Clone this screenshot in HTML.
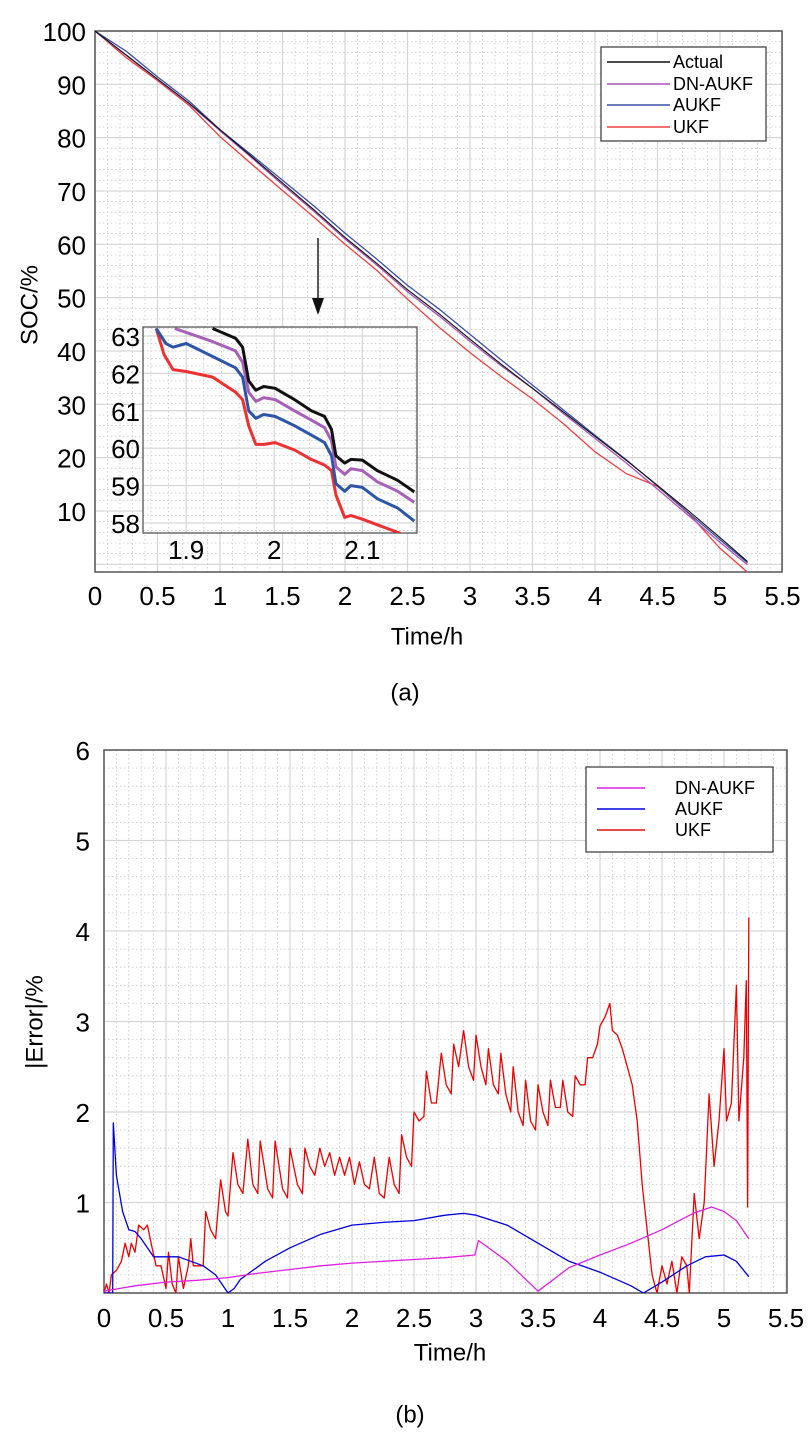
<!DOCTYPE html>
<html><head><meta charset="utf-8"><style>
html,body{margin:0;padding:0;background:#fff;width:810px;height:1440px;overflow:hidden}
svg{display:block;font-family:"Liberation Sans",sans-serif}
</style></head><body>
<svg id="s" width="810" height="1440" xmlns="http://www.w3.org/2000/svg"></svg>
<script>
// ---- Chart (a) data ----
const socTimes=[0,0.25,0.5,0.75,1,1.25,1.5,1.75,2,2.25,2.5,2.75,3,3.25,3.5,3.75,4,4.25,4.5,4.75,5,5.22];
const socActual=[100,95.5,91,86.5,81.5,76.5,71.5,66.5,61.3,56.5,51.5,47,42.2,37.5,33,28.5,24,19.5,14.8,10,5,0.5];
const socDN=[100,95.4,90.9,86.4,81.3,76.3,71.2,66.2,61.0,56.2,51.1,46.6,41.8,37.2,33,28.2,23.6,19,14.1,9.1,4.1,-0.1];
const socAUKF=[100,96.2,91.4,86.9,81.5,76.8,72.0,67.2,62.1,57.3,52.3,47.9,43.1,38.3,33.6,28.9,24.2,19.6,14.7,9.6,4.6,0.3];
const socUKF=[100,95.0,90.7,86.1,80.2,75.1,70.1,65.1,60.0,55.2,49.7,44.5,39.7,35.2,31.0,26.3,21.1,17.0,14.6,9.5,3.0,-1.5];
const xTicksA=[0,0.5,1,1.5,2,2.5,3,3.5,4,4.5,5,5.5];
const xTickLabelsA=["0","0.5","1","1.5","2","2.5","3","3.5","4","4.5","5","5.5"];
const yTicksA=[10,20,30,40,50,60,70,80,90,100];
// inset
const insT_black=[1.93,1.956,1.964,1.971,1.979,1.988,2.001,2.023,2.042,2.057,2.065,2.07,2.08,2.087,2.1,2.117,2.14,2.159];
const insV_black=[63.2,62.94,62.7,61.8,61.55,61.65,61.6,61.3,61.0,60.85,60.5,59.8,59.6,59.7,59.68,59.4,59.14,58.83];
const insT_dn=[1.887,1.93,1.956,1.964,1.971,1.979,1.988,2.001,2.023,2.042,2.057,2.065,2.07,2.08,2.087,2.1,2.117,2.14,2.159];
const insV_dn=[63.2,62.85,62.6,62.3,61.5,61.25,61.35,61.3,61.0,60.75,60.55,60.2,59.5,59.3,59.45,59.4,59.1,58.85,58.55];
const insT_au=[1.866,1.877,1.885,1.9,1.93,1.956,1.964,1.971,1.979,1.988,2.001,2.023,2.042,2.057,2.065,2.07,2.08,2.087,2.1,2.117,2.14,2.159];
const insV_au=[63.2,62.8,62.7,62.8,62.45,62.15,61.9,61.0,60.8,60.9,60.85,60.6,60.35,60.15,59.8,59.05,58.85,59.0,58.95,58.65,58.4,58.05];
const insT_ukf=[1.866,1.875,1.885,1.9,1.93,1.956,1.964,1.971,1.979,1.988,2.001,2.023,2.042,2.057,2.065,2.07,2.08,2.087,2.1,2.117,2.14,2.16];
const insV_ukf=[63.2,62.5,62.1,62.05,61.9,61.5,61.3,60.6,60.1,60.1,60.15,59.95,59.7,59.55,59.4,58.75,58.15,58.2,58.1,57.95,57.75,57.55];
const insXTicks=[1.9,2,2.1];
const insYTicks=[58,59,60,61,62,63];
// ---- Chart (b) data ----
const ukfT=[0,0.02,0.04,0.06,0.1,0.14,0.17,0.2,0.22,0.25,0.28,0.32,0.35,0.38,0.42,0.46,0.5,0.52,0.55,0.58,0.6,0.64,0.68,0.7,0.72,0.78,0.8,0.82,0.86,0.9,0.94,0.98,1.0,1.04,1.08,1.12,1.16,1.2,1.24,1.26,1.32,1.36,1.38,1.44,1.48,1.5,1.56,1.6,1.62,1.66,1.7,1.74,1.78,1.82,1.86,1.9,1.94,1.98,2.02,2.06,2.1,2.14,2.18,2.22,2.26,2.3,2.34,2.38,2.4,2.44,2.48,2.5,2.54,2.58,2.6,2.64,2.68,2.72,2.76,2.8,2.82,2.86,2.9,2.94,2.98,3.0,3.04,3.08,3.1,3.14,3.18,3.2,3.24,3.28,3.3,3.34,3.38,3.4,3.44,3.48,3.5,3.54,3.58,3.6,3.64,3.68,3.7,3.74,3.78,3.8,3.84,3.88,3.9,3.94,3.98,4.0,4.04,4.08,4.1,4.14,4.18,4.22,4.26,4.3,4.34,4.38,4.42,4.46,4.5,4.54,4.58,4.62,4.66,4.7,4.72,4.76,4.8,4.84,4.88,4.92,4.96,5.0,5.02,5.06,5.1,5.12,5.16,5.18,5.19,5.2];
const ukfE=[0,0.1,0,0.2,0.25,0.35,0.55,0.4,0.55,0.45,0.75,0.7,0.75,0.55,0.3,0.3,0.05,0.45,0.1,0,0.4,0.05,0.3,0.6,0.3,0.3,0.3,0.9,0.7,0.6,1.25,0.9,0.85,1.55,1.2,1.1,1.7,1.2,1.1,1.68,1.15,1.05,1.68,1.15,1.05,1.6,1.2,1.1,1.6,1.4,1.3,1.6,1.4,1.55,1.3,1.5,1.3,1.5,1.2,1.45,1.2,1.15,1.5,1.1,1.05,1.5,1.2,1.1,1.75,1.5,1.4,2.0,1.9,1.95,2.45,2.1,2.1,2.65,2.3,2.2,2.75,2.5,2.9,2.5,2.35,2.85,2.5,2.3,2.7,2.3,2.2,2.65,2.2,2.0,2.5,2.0,1.85,2.35,1.9,1.8,2.3,2.0,1.85,2.35,2.05,2.05,2.35,2.0,1.95,2.4,2.3,2.3,2.6,2.6,2.75,2.95,3.05,3.2,2.9,2.85,2.7,2.5,2.3,1.9,1.2,0.7,0.2,0,0.3,0.1,0.35,0,0.4,0.3,0,1.1,0.6,1.0,2.2,1.4,1.9,2.7,1.9,2.1,3.4,1.9,2.6,3.45,0.95,4.15];
const aukfT=[0,0.07,0.075,0.1,0.15,0.2,0.25,0.3,0.35,0.4,0.5,0.6,0.7,0.8,0.9,1.0,1.05,1.1,1.2,1.3,1.5,1.75,2.0,2.25,2.5,2.75,2.9,3.0,3.25,3.5,3.75,4.0,4.25,4.35,4.5,4.7,4.85,5.0,5.1,5.2];
const aukfE=[0,0,1.88,1.3,0.9,0.7,0.68,0.6,0.5,0.4,0.4,0.4,0.35,0.3,0.2,0,0.05,0.15,0.25,0.35,0.5,0.65,0.75,0.78,0.8,0.86,0.88,0.86,0.75,0.55,0.35,0.23,0.08,0,0.12,0.3,0.4,0.42,0.35,0.18];
const dnT=[0,0.25,0.5,0.75,1,1.25,1.5,1.75,2,2.25,2.5,2.75,2.99,3.02,3.25,3.5,3.75,4,4.25,4.5,4.75,4.9,5,5.1,5.2];
const dnE=[0.02,0.08,0.12,0.14,0.17,0.22,0.26,0.3,0.33,0.35,0.37,0.39,0.42,0.58,0.35,0.02,0.28,0.42,0.55,0.7,0.88,0.95,0.9,0.8,0.6];
const xTicksB=[0,0.5,1,1.5,2,2.5,3,3.5,4,4.5,5,5.5];
const xTickLabelsB=["0","0.5","1","1.5","2","2.5","3","3.5","4","4.5","5","5.5"];
const yTicksB=[1,2,3,4,5,6];

const NS="http://www.w3.org/2000/svg";
const svg=document.getElementById('s');
function mk(tag,attrs,parent){const e=document.createElementNS(NS,tag);for(const k in attrs)e.setAttribute(k,attrs[k]);(parent||svg).appendChild(e);return e;}
function txt(str,x,y,size,parent,anchor){const t=mk('text',{x:x,y:y,'font-size':size,'text-anchor':anchor||'middle','dominant-baseline':'central',fill:'#000'},parent);t.textContent=str;return t;}

function grid(g,L,R,T,B,xs,ys,xmin,xmax,ymin,ymax,xMaj,yMaj){
  for(let v=Math.ceil(xmin/(xMaj/5)-1e-6)*(xMaj/5);v<=xmax+1e-9;v+=xMaj/5){const x=xs(v);mk('line',{x1:x,x2:x,y1:T,y2:B,stroke:'#c8c8c8','stroke-width':0.8,'stroke-dasharray':'1.5,2.5'},g);}
  for(let v=Math.ceil(ymin/(yMaj/5)-1e-6)*(yMaj/5);v<=ymax+1e-9;v+=yMaj/5){const y=ys(v);mk('line',{x1:L,x2:R,y1:y,y2:y,stroke:'#c8c8c8','stroke-width':0.8,'stroke-dasharray':'1.5,2.5'},g);}
  for(let v=Math.ceil(xmin/xMaj-1e-6)*xMaj;v<=xmax+1e-9;v+=xMaj){const x=xs(v);mk('line',{x1:x,x2:x,y1:T,y2:B,stroke:'#d6d6d6','stroke-width':1.2},g);}
  for(let v=Math.ceil(ymin/yMaj-1e-6)*yMaj;v<=ymax+1e-9;v+=yMaj){const y=ys(v);mk('line',{x1:L,x2:R,y1:y,y2:y,stroke:'#d6d6d6','stroke-width':1.2},g);}
}
function line(g,T,V,xs,ys,color,w,name,clip){const d=T.map((t,i)=>(i?'L':'M')+xs(t).toFixed(1)+','+ys(V[i]).toFixed(1)).join(' ');const p=mk('path',{d:d,fill:'none',stroke:color,'stroke-width':w,'stroke-linejoin':'round','clip-path':'url(#'+clip+')'},g);


return p;}

const defs=mk('defs',{});
// ===== Chart A =====
const A={L:95,R:782,T:31,B:572};
const xa=v=>A.L+v*125, ya=v=>A.T+(100-v)*5.333;
const cpA=mk('clipPath',{id:'ca'},defs);mk('rect',{x:A.L,y:A.T,width:A.R-A.L,height:A.B-A.T},cpA);
const gA=mk('g',{});
grid(gA,A.L,A.R,A.T,A.B,xa,ya,0,5.5,-1.5,100,0.5,10);
mk('rect',{x:A.L,y:A.T,width:A.R-A.L,height:A.B-A.T,fill:'none',stroke:'#555','stroke-width':1.5},gA);
xTicksA.forEach((v,i)=>{const t=txt(xTickLabelsA[i],xa(v),596,26,gA);});
yTicksA.forEach(v=>{const t=txt(String(v),86,ya(v)+1,26,gA,'end');});
line(gA,socTimes,socUKF,xa,ya,'#ee4040',1.3,'ukf-line','ca');
line(gA,socTimes,socDN,xa,ya,'#a855b5',1.3,'dn-aukf-line','ca');
line(gA,socTimes,socAUKF,xa,ya,'#3a50a8',1.3,'aukf-line','ca');
line(gA,socTimes,socActual,xa,ya,'#111',1.1,'actual-line','ca');
const yt=txt('SOC/%',0,0,24,gA);yt.setAttribute('transform','translate(30,305) rotate(-90)');
const xt=txt('Time/h',427,637,24,gA);
const ca=txt('(a)',405,693,24,gA);
// legend A
const lgA=mk('g',{});
mk('rect',{x:601,y:47,width:165,height:94,fill:'#fff',stroke:'#444','stroke-width':1.3},lgA);
[['Actual','#111',62],['DN-AUKF','#a855b5',84],['AUKF','#3a50a8',105],['UKF','#ee4040',127]].forEach(r=>{
 const e=mk('g',{},lgA);
 mk('line',{x1:607,x2:670,y1:r[2],y2:r[2],stroke:r[1],'stroke-width':1.5},e);txt(r[0],673,r[2],18,e,'start');});
// arrow
const ar=mk('g',{});
mk('line',{x1:318,x2:318,y1:238,y2:303,stroke:'#222','stroke-width':1.5},ar);
mk('path',{d:'M312,298 L324,298 L318,315 Z',fill:'#111'},ar);
// inset
const I={L:143,R:417,T:327,B:533};
const xi=v=>I.L+(v-1.851)*881, yi=v=>I.T+(63.24-v)*37.4;
const cpI=mk('clipPath',{id:'ci'},defs);mk('rect',{x:I.L,y:I.T,width:I.R-I.L,height:I.B-I.T},cpI);
const gI=mk('g',{});
mk('rect',{x:I.L,y:I.T,width:I.R-I.L,height:I.B-I.T,fill:'#fff'},gI);
grid(gI,I.L,I.R,I.T,I.B,xi,yi,1.851,2.162,57.73,63.24,0.1,1);
mk('rect',{x:I.L,y:I.T,width:I.R-I.L,height:I.B-I.T,fill:'none',stroke:'#555','stroke-width':1.3},gI);
insXTicks.forEach(v=>{const t=txt(String(v),xi(v),550,26,gI);});
insYTicks.forEach(v=>{const t=txt(String(v),140,yi(v)+1,26,gI,'end');});
line(gI,insT_ukf,insV_ukf,xi,yi,'#ee3030',3,'inset-ukf-line','ci');
line(gI,insT_au,insV_au,xi,yi,'#2c55a8',3,'inset-aukf-line','ci');
line(gI,insT_dn,insV_dn,xi,yi,'#a660b8',3,'inset-dn-aukf-line','ci');
line(gI,insT_black,insV_black,xi,yi,'#111',3,'inset-actual-line','ci');

// ===== Chart B =====
const B={L:104,R:787,T:750,B:1293};
const xb=v=>B.L+v*124, yb=v=>B.B-v*90.5;
const cpB=mk('clipPath',{id:'cb'},defs);mk('rect',{x:B.L,y:B.T-2,width:B.R-B.L,height:B.B-B.T+2},cpB);
const gB=mk('g',{});
grid(gB,B.L,B.R,B.T,B.B,xb,yb,0,5.5,0,6,0.5,1);
mk('rect',{x:B.L,y:B.T,width:B.R-B.L,height:B.B-B.T,fill:'none',stroke:'#555','stroke-width':1.5},gB);
xTicksB.forEach((v,i)=>{const t=txt(xTickLabelsB[i],xb(v),1318,26,gB);});
yTicksB.forEach(v=>{const t=txt(String(v),90,yb(v)+1,26,gB,'end');});
line(gB,ukfT,ukfE,xb,yb,'#ee0000',1.3,'ukf-error-line','cb');
line(gB,aukfT,aukfE,xb,yb,'#0000dd',1.3,'aukf-error-line','cb');
line(gB,dnT,dnE,xb,yb,'#e020e0',1.3,'dn-aukf-error-line','cb');
const yt2=txt('|Error|/%',0,0,24,gB);yt2.setAttribute('transform','translate(35,1022) rotate(-90)');
const xt2=txt('Time/h',450,1353,24,gB);
const cb=txt('(b)',410,1415,24,gB);
const lgB=mk('g',{});
mk('rect',{x:586,y:767,width:187,height:85,fill:'#fff',stroke:'#444','stroke-width':1.3},lgB);
[['DN-AUKF','#e020e0',788],['AUKF','#0000dd',809],['UKF','#dd1010',830]].forEach(r=>{
 const e=mk('g',{},lgB);
 mk('line',{x1:597,x2:645,y1:r[2],y2:r[2],stroke:r[1],'stroke-width':1.5},e);txt(r[0],675,r[2],18,e,'start');});
</script>
</body></html>
